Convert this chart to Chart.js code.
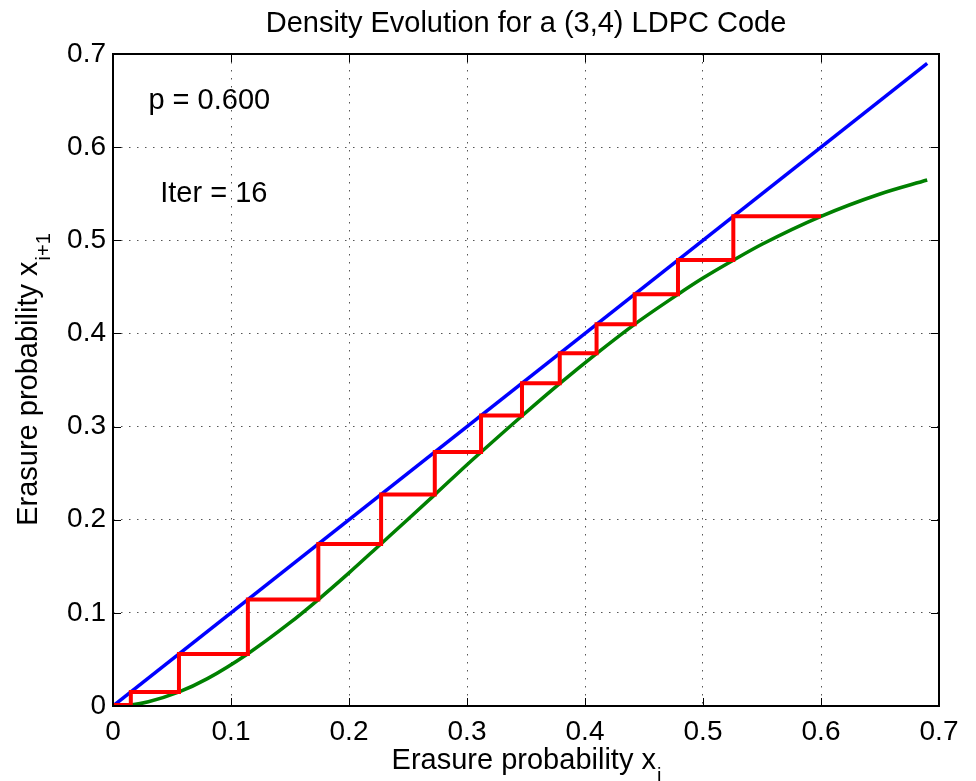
<!DOCTYPE html>
<html>
<head>
<meta charset="utf-8">
<script src="https://cdn.jsdelivr.net/npm/chart.js@4"></script>
<style>
  html, body { margin: 0; padding: 0; background: #fff; }
  canvas { display: block; }
</style>
</head>
<body>
<canvas id="deChart" width="976" height="781"></canvas>
<script>
// tick labels
var xTickLabels = ['0', '0.1', '0.2', '0.3', '0.4', '0.5', '0.6', '0.7'];
var yTickLabels = ['0', '0.1', '0.2', '0.3', '0.4', '0.5', '0.6', '0.7'];

// diagonal x_{i+1} = x_i
var diagX = [0, 0.69];
var diagY = [0, 0.69];

// density evolution curve (green)
var curveX = [0, 0.015, 0.03, 0.056, 0.08, 0.114, 0.15, 0.174, 0.2, 0.227, 0.25, 0.273, 0.3, 0.312,
              0.347, 0.379, 0.41, 0.442, 0.479, 0.5, 0.526, 0.55, 0.6, 0.65, 0.69];
var curveY = [0, 0.0012, 0.0046, 0.0151, 0.0294, 0.0559, 0.0894, 0.1143, 0.1429, 0.174, 0.2005, 0.2272, 0.259, 0.2727,
              0.3119, 0.3466, 0.3786, 0.4098, 0.4421, 0.4594, 0.4788, 0.4957, 0.5257, 0.5497, 0.5647];

// erasure probability after each iteration (red staircase)
var iterates = [0.6, 0.5257, 0.4788, 0.4421, 0.4098, 0.3786, 0.3466, 0.3119, 0.2727,
                0.2272, 0.174, 0.1143, 0.0559, 0.0151, 0.0012, 0];

var pText = 'p = 0.600';
var iterText = 'Iter = 16';

var FONT = "'Liberation Sans', Arial, Helvetica, sans-serif";

function toPoints(xs, ys) {
    return xs.map(function (x, i) { return {x: x, y: ys[i]}; });
}

var stair = [{x: iterates[0], y: iterates[1]}];
for (var k = 1; k < iterates.length - 1; k++) {
    stair.push({x: iterates[k], y: iterates[k]});
    stair.push({x: iterates[k], y: iterates[k + 1]});
}

function drawSub(ctx, main, sub, cx, base, mainSize, subSize, drop) {
    ctx.font = mainSize + 'px ' + FONT;
    var w1 = ctx.measureText(main).width;
    ctx.font = subSize + 'px ' + FONT;
    var w2 = ctx.measureText(sub).width;
    var x0 = cx - (w1 + w2) / 2;
    ctx.textAlign = 'left';
    ctx.textBaseline = 'alphabetic';
    ctx.font = mainSize + 'px ' + FONT;
    ctx.fillText(main, x0, base);
    ctx.font = subSize + 'px ' + FONT;
    ctx.fillText(sub, x0 + w1 + 1, base + drop);
}

var decor = {
    id: 'decor',
    afterDraw: function (chart) {
        var ctx = chart.ctx;
        var a = chart.chartArea;
        var xs = chart.scales.x, ys = chart.scales.y;
        ctx.save();
        ctx.fillStyle = '#000';
        ctx.strokeStyle = '#000';

        // inner tick marks
        ctx.lineWidth = 1;
        ctx.beginPath();
        xTickLabels.forEach(function (t) {
            var px = Math.round(xs.getPixelForValue(parseFloat(t))) + 0.5;
            ctx.moveTo(px, a.bottom); ctx.lineTo(px, a.bottom - 8);
            ctx.moveTo(px, a.top); ctx.lineTo(px, a.top + 8);
        });
        yTickLabels.forEach(function (t) {
            var py = Math.round(ys.getPixelForValue(parseFloat(t))) + 0.5;
            ctx.moveTo(a.left, py); ctx.lineTo(a.left + 8, py);
            ctx.moveTo(a.right, py); ctx.lineTo(a.right - 8, py);
        });
        ctx.stroke();

        // box
        ctx.lineWidth = 2;
        ctx.strokeRect(a.left, a.top, a.right - a.left, a.bottom - a.top);

        // title
        ctx.font = '29px ' + FONT;
        ctx.textAlign = 'center';
        ctx.textBaseline = 'alphabetic';
        ctx.fillText('Density Evolution for a (3,4) LDPC Code', (a.left + a.right) / 2, 32);

        // axis labels
        drawSub(ctx, 'Erasure probability x', 'i', (a.left + a.right) / 2, 769, 29, 20, 13);
        ctx.save();
        ctx.translate(37, (a.top + a.bottom) / 2);
        ctx.rotate(-Math.PI / 2);
        drawSub(ctx, 'Erasure probability x', 'i+1', 0, 0, 29, 20, 13);
        ctx.restore();

        // annotations
        ctx.font = '29px ' + FONT;
        ctx.textAlign = 'left';
        ctx.textBaseline = 'middle';
        ctx.fillText(pText, xs.getPixelForValue(0.03), ys.getPixelForValue(0.65));
        ctx.fillText(iterText, xs.getPixelForValue(0.04), ys.getPixelForValue(0.55));
        ctx.restore();
    }
};

var ctx = document.getElementById('deChart');

var chart = new Chart(ctx, {
    type: 'scatter',
    data: {
        datasets: [
            {
                label: 'staircase',
                data: stair,
                showLine: true,
                borderColor: '#ff0000',
                borderWidth: 4,
                pointRadius: 0,
                tension: 0,
                order: 0
            },
            {
                label: 'f(x)',
                data: toPoints(curveX, curveY),
                showLine: true,
                borderColor: '#008000',
                borderWidth: 3.5,
                pointRadius: 0,
                cubicInterpolationMode: 'monotone',
                order: 1
            },
            {
                label: 'x',
                data: toPoints(diagX, diagY),
                showLine: true,
                borderColor: '#0000ff',
                borderWidth: 3.5,
                pointRadius: 0,
                order: 2
            }
        ]
    },
    options: {
        responsive: false,
        animation: false,
        events: [],
        layout: { padding: { top: 54, right: 37, left: 0, bottom: 0 } },
        plugins: {
            legend: { display: false },
            tooltip: { enabled: false }
        },
        scales: {
            x: {
                type: 'linear',
                min: 0,
                max: 0.7,
                afterFit: function (s) { s.height = 75; },
                border: { display: false, dash: [1.5, 6.5] },
                grid: { color: '#555', lineWidth: 1, drawTicks: false },
                ticks: {
                    stepSize: 0.1,
                    padding: 9,
                    color: '#000',
                    font: { family: FONT, size: 28 },
                    maxRotation: 0,
                    callback: function (v, i) { return xTickLabels[i]; }
                }
            },
            y: {
                type: 'linear',
                min: 0,
                max: 0.7,
                afterFit: function (s) { s.width = 113; },
                border: { display: false, dash: [1.5, 6.5] },
                grid: { color: '#555', lineWidth: 1, drawTicks: false },
                ticks: {
                    stepSize: 0.1,
                    padding: 7,
                    color: '#000',
                    font: { family: FONT, size: 28 },
                    callback: function (v, i) { return yTickLabels[i]; }
                }
            }
        }
    },
    plugins: [decor]
});
</script>
</body>
</html>
